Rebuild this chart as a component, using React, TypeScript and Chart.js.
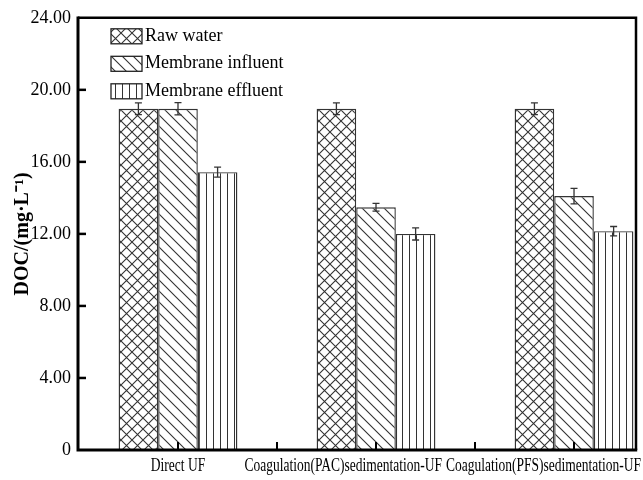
import React, { useEffect, useRef } from 'react';
import { Chart, registerables } from 'chart.js';

Chart.register(...registerables);

// Treatment processes (x categories)
const categories = ['Direct UF', 'Coagulation(PAC)sedimentation-UF', 'Coagulation(PFS)sedimentation-UF'];

// Series names
const seriesNames = ['Raw water', 'Membrane influent', 'Membrane effluent'];

// DOC values (mg/L) and standard deviations
const rawWater = [18.95, 18.95, 18.95];
const rawWaterErr = [0.33, 0.33, 0.33];
const membraneInfluent = [18.95, 13.48, 14.1];
const membraneInfluentErr = [0.34, 0.22, 0.43];
const membraneEffluent = [15.43, 12.0, 12.15];
const membraneEffluentErr = [0.28, 0.34, 0.26];

// Axis settings
const yMin = 0;
const yMax = 24;
const yStep = 4;
const yTitle = 'DOC/(mg·L⁻¹)';
const xMinorTicks = [0, 0.5, 1, 1.5, 2];

const SERIF = '"Liberation Serif", "Times New Roman", serif';

type PatternKind = 'cross' | 'back' | 'vertical';
const patternKinds: PatternKind[] = ['cross', 'back', 'vertical'];

function makePattern(ctx: CanvasRenderingContext2D, kind: PatternKind): CanvasPattern | string {
  const s = kind === 'vertical' ? 7 : kind === 'cross' ? 11 : 11;
  const c = document.createElement('canvas');
  c.width = s;
  c.height = s;
  const g = c.getContext('2d');
  if (!g) return '#fff';
  g.fillStyle = '#ffffff';
  g.fillRect(0, 0, s, s);
  g.strokeStyle = '#333';
  g.lineWidth = kind === 'vertical' ? 1 : 1.1;
  g.beginPath();
  if (kind === 'cross') {
    g.moveTo(0, 0);
    g.lineTo(s, s);
    g.moveTo(s, 0);
    g.lineTo(0, s);
  } else if (kind === 'back') {
    g.moveTo(-1, -1);
    g.lineTo(s + 1, s + 1);
    g.moveTo(-2, s - 2);
    g.lineTo(2, s + 2);
    g.moveTo(s - 2, -2);
    g.lineTo(s + 2, 2);
  } else {
    g.moveTo(3.5, 0);
    g.lineTo(3.5, s);
  }
  g.stroke();
  return ctx.createPattern(c, 'repeat') || '#fff';
}

const errorArrays = [rawWaterErr, membraneInfluentErr, membraneEffluentErr];

const decorations = {
  id: 'decorations',
  afterDatasetsDraw(chart: any) {
    const { ctx } = chart;
    const yScale = chart.scales.y;
    // error bars
    ctx.save();
    ctx.strokeStyle = '#333';
    ctx.lineWidth = 1.3;
    chart.data.datasets.forEach((ds: any, di: number) => {
      const meta = chart.getDatasetMeta(di);
      meta.data.forEach((bar: any, i: number) => {
        const v = ds.data[i].y;
        const e = errorArrays[di][i];
        const x = bar.x;
        const yTop = yScale.getPixelForValue(v + e);
        const yBot = yScale.getPixelForValue(v - e);
        ctx.beginPath();
        ctx.moveTo(x, yTop);
        ctx.lineTo(x, yBot);
        ctx.moveTo(x - 3.5, yTop);
        ctx.lineTo(x + 3.5, yTop);
        ctx.moveTo(x - 3.5, yBot);
        ctx.lineTo(x + 3.5, yBot);
        ctx.stroke();
      });
    });
    ctx.restore();
  },
  afterDraw(chart: any) {
    const { ctx, chartArea } = chart;
    const { left, right, top, bottom } = chartArea;
    const xScale = chart.scales.x;
    const yScale = chart.scales.y;
    ctx.save();
    ctx.strokeStyle = '#000';
    // frame
    ctx.lineWidth = 2.5;
    ctx.beginPath();
    ctx.moveTo(left, top);
    ctx.lineTo(right, top);
    ctx.lineTo(right, bottom);
    ctx.stroke();
    ctx.lineWidth = 3;
    ctx.beginPath();
    ctx.moveTo(left, top - 1.2);
    ctx.lineTo(left, bottom);
    ctx.lineTo(right + 1.2, bottom);
    ctx.stroke();
    // inward y ticks
    ctx.lineWidth = 2.5;
    for (let v = yMin + yStep; v < yMax; v += yStep) {
      const y = yScale.getPixelForValue(v);
      ctx.beginPath();
      ctx.moveTo(left, y);
      ctx.lineTo(left + 8, y);
      ctx.stroke();
    }
    // inward x ticks
    ctx.lineWidth = 2;
    xMinorTicks.forEach((v) => {
      const x = xScale.getPixelForValue(v);
      ctx.beginPath();
      ctx.moveTo(x, bottom);
      ctx.lineTo(x, bottom - 8);
      ctx.stroke();
    });

    // category labels (condensed serif), kept from overlapping and inside the canvas
    const sx = 0.75;
    ctx.font = `18px ${SERIF}`;
    ctx.fillStyle = '#000';
    ctx.textAlign = 'center';
    ctx.textBaseline = 'middle';
    const widths = categories.map((t) => ctx.measureText(t).width * sx);
    const centers: number[] = [];
    let limit = chart.width - 2;
    for (let i = categories.length - 1; i >= 0; i--) {
      let c = xScale.getPixelForValue(i);
      if (c + widths[i] / 2 > limit) c = limit - widths[i] / 2;
      centers[i] = c;
      limit = c - widths[i] / 2 - 4;
    }
    categories.forEach((t, i) => {
      ctx.save();
      ctx.translate(centers[i], bottom + 16);
      ctx.scale(sx, 1);
      ctx.fillText(t, 0, 0);
      ctx.restore();
    });

    // legend inside plot area
    ctx.font = `18px ${SERIF}`;
    ctx.textAlign = 'left';
    ctx.textBaseline = 'middle';
    chart.data.datasets.forEach((ds: any, i: number) => {
      const bx = left + 33;
      const by = top + 11 + i * 27.5;
      ctx.fillStyle = ds.backgroundColor;
      ctx.fillRect(bx, by, 31, 15);
      ctx.lineWidth = 1.3;
      ctx.strokeStyle = '#222';
      ctx.strokeRect(bx, by, 31, 15);
      ctx.fillStyle = '#000';
      ctx.fillText(ds.label, bx + 34, by + 7);
    });
    ctx.restore();
  },
};

export default function App() {
  const canvasRef = useRef<HTMLCanvasElement | null>(null);

  useEffect(() => {
    const canvas = canvasRef.current;
    if (!canvas) return;
    const ctx = canvas.getContext('2d');
    if (!ctx) return;
    const series = [rawWater, membraneInfluent, membraneEffluent];
    const chart = new Chart(ctx, {
      type: 'bar',
      data: {
        datasets: series.map((vals, si) => ({
          label: seriesNames[si],
          data: vals.map((v, i) => ({ x: i, y: v })),
          backgroundColor: makePattern(ctx, patternKinds[si]) as any,
          borderColor: '#333',
          borderWidth: 1.4,
          categoryPercentage: 0.6,
          barPercentage: 1,
        })),
      },
      options: {
        animation: false,
        responsive: true,
        maintainAspectRatio: false,
        layout: { padding: { top: 16, right: 7, bottom: 0, left: 0 } },
        plugins: {
          legend: { display: false },
          tooltip: { enabled: false },
        },
        scales: {
          x: {
            type: 'linear',
            offset: false,
            min: -0.505,
            max: 2.313,
            grid: { display: false },
            border: { display: false },
            ticks: { display: false },
            afterBuildTicks: (scale: any) => {
              scale.ticks = categories.map((_, i) => ({ value: i }));
            },
            afterFit: (scale: any) => {
              scale.height = 30;
            },
          },
          y: {
            min: yMin,
            max: yMax,
            grid: { display: false, drawTicks: false },
            border: { display: false },
            ticks: {
              stepSize: yStep,
              padding: 7,
              color: '#000',
              font: { family: SERIF, size: 18 },
              callback: (v: any) => (Number(v) === 0 ? '0' : Number(v).toFixed(2)),
            },
            title: {
              display: true,
              text: yTitle,
              color: '#000',
              font: { family: SERIF, size: 20, weight: 'bold' },
              padding: { top: 11, bottom: 0 },
            },
            afterFit: (scale: any) => {
              scale.width = 78;
            },
          },
        },
      },
      plugins: [decorations],
    } as any);
    return () => chart.destroy();
  }, []);

  return (
    <div style={{ position: 'absolute', left: 0, top: 0, width: 643, height: 480, background: '#fff' }}>
      <canvas ref={canvasRef} />
    </div>
  );
}
